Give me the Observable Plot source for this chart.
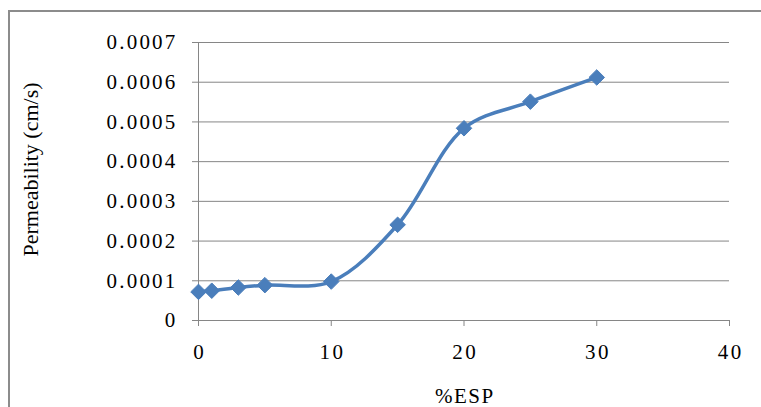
<!DOCTYPE html>
<html>
<head>
<meta charset="utf-8">
<script src="https://cdn.jsdelivr.net/npm/d3@7"></script>
<script src="https://cdn.jsdelivr.net/npm/@observablehq/plot@0.6"></script>
<style>
  html, body { margin: 0; padding: 0; background: #fff; overflow: hidden; }
  #wrap { position: relative; width: 761px; height: 407px; }
  #frame { position: absolute; left: 8px; top: 10px; right: -20px; bottom: -20px;
           border-left: 2px solid #8c8c8c; border-top: 2px solid #8c8c8c; pointer-events: none; }
  #wrap svg { position: absolute; left: 0; top: 0; }
</style>
</head>
<body>
<div id="wrap"><div id="chart"></div><div id="frame"></div></div>
<script>
const esp = [0, 1, 3, 5, 10, 15, 20, 25, 30];
const permeability = [0.000072, 0.000075, 0.000083, 0.000089, 0.000098, 0.000241, 0.000484, 0.000551, 0.000612];
const xTicks = [0, 10, 20, 30, 40];
const yTicks = [0, 0.0001, 0.0002, 0.0003, 0.0004, 0.0005, 0.0006, 0.0007];
const yTickLabels = ["0", "0.0001", "0.0002", "0.0003", "0.0004", "0.0005", "0.0006", "0.0007"];
const xTitle = "%ESP";
const yTitle = "Permeability (cm/s)";

const data = esp.map((e, i) => ({esp: e, perm: permeability[i]}));
const blue = "#4a7ebb";
const gray = "#868686";

const chart = Plot.plot({
  width: 761,
  height: 407,
  marginLeft: 198,
  marginRight: 32,
  marginTop: 42,
  marginBottom: 87,
  style: {fontFamily: "'Liberation Serif', 'Times New Roman', serif", fontSize: "21px", color: "#000", background: "transparent"},
  x: {domain: [0, 40]},
  y: {domain: [0, 0.0007]},
  marks: [
    Plot.gridY(yTicks, {stroke: gray, strokeOpacity: 1}),
    Plot.axisY(yTicks, {tickSize: 6, tickPadding: 15, stroke: gray, fill: "#000", tickFormat: (d, i) => yTickLabels[i], label: null}),
    Plot.axisX(xTicks, {tickSize: 6, tickPadding: 18, stroke: gray, fill: "#000", label: null}),
    Plot.ruleX([0], {stroke: gray}),
    Plot.ruleY([0], {stroke: gray}),
    Plot.line(data, {x: "esp", y: "perm", curve: "catmull-rom", stroke: blue, strokeWidth: 3.5}),
    Plot.dot(data, {x: "esp", y: "perm", symbol: "diamond2", r: 7, fill: blue, stroke: blue, strokeWidth: 1}),
    Plot.text([yTitle], {text: d => d, frameAnchor: "left", textAnchor: "middle", rotate: -90, dx: -168, dy: -12, fontSize: 22}),
    Plot.text([xTitle], {text: d => d, frameAnchor: "bottom", textAnchor: "middle", dy: 82, fontSize: 21})
  ]
});
document.getElementById("chart").appendChild(chart);

d3.select(chart).selectAll("g[aria-label='y-axis tick label'] text").attr("letter-spacing", "2.2px");
d3.select(chart).selectAll("g[aria-label='x-axis tick label'] text").attr("letter-spacing", "2.5px").attr("dx", "1.25");
d3.select(chart).selectAll("g[aria-label='text']").filter((d, i) => i === 1).selectAll("text").attr("letter-spacing", "1.5px").attr("dx", "0.75");
</script>
</body>
</html>
